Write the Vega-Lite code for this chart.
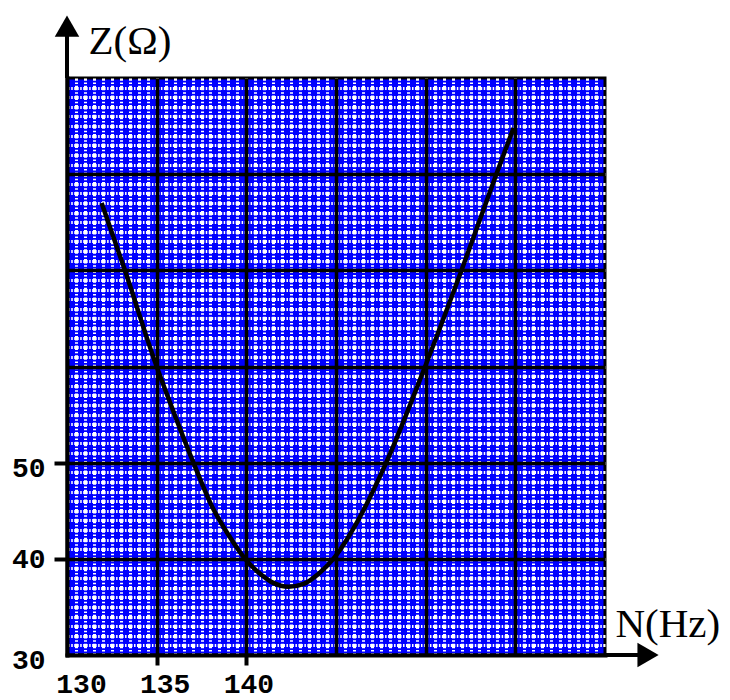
{
  "$schema": "https://vega.github.io/schema/vega-lite/v6.json",
  "width": 538,
  "height": 577,
  "autosize": {"type": "none"},
  "padding": {"left": 67, "top": 78, "right": 125, "bottom": 45},
  "background": "white",
  "config": {"view": {"fill": "#0000ff", "stroke": "black", "strokeWidth": 3}},
  "resolve": {"axis": {"x": "independent", "y": "independent"}},
  "layer": [
    {
      "data": {"values": [
        {"N": 131.93, "Z": 77.0},
        {"N": 133.23, "Z": 70.0},
        {"N": 134.96, "Z": 60.2},
        {"N": 136.0, "Z": 55.0},
        {"N": 137.05, "Z": 50.0},
        {"N": 138.1, "Z": 45.4},
        {"N": 139.0, "Z": 42.5},
        {"N": 139.93, "Z": 40.0},
        {"N": 140.8, "Z": 38.4},
        {"N": 141.5, "Z": 37.5},
        {"N": 142.35, "Z": 37.1},
        {"N": 143.2, "Z": 37.4},
        {"N": 144.0, "Z": 38.4},
        {"N": 144.85, "Z": 40.0},
        {"N": 146.2, "Z": 43.9},
        {"N": 147.8, "Z": 50.0},
        {"N": 149.97, "Z": 60.0},
        {"N": 152.0, "Z": 70.0},
        {"N": 153.96, "Z": 80.1},
        {"N": 154.9, "Z": 84.8}
      ]},
      "mark": {"type": "line", "color": "black", "strokeWidth": 4.5, "interpolate": "monotone"},
      "encoding": {
        "x": {"field": "N", "type": "quantitative",
          "scale": {"domain": [130, 160], "nice": false, "zero": false},
          "axis": {"orient": "bottom", "values": [130.5,131,131.5,132,132.5,133,133.5,134,134.5,135,135.5,136,136.5,137,137.5,138,138.5,139,139.5,140,140.5,141,141.5,142,142.5,143,143.5,144,144.5,145,145.5,146,146.5,147,147.5,148,148.5,149,149.5,150,150.5,151,151.5,152,152.5,153,153.5,154,154.5,155,155.5,156,156.5,157,157.5,158,158.5,159,159.5],
            "grid": true, "gridColor": "white", "gridWidth": 3, "gridOpacity": 1,
            "gridDash": [4.5, 1.8, 1.5, 1.817], "gridDashOffset": 2.25,
            "domain": false, "ticks": false, "labels": false, "title": null, "zindex": 0}},
        "y": {"field": "Z", "type": "quantitative",
          "scale": {"domain": [30, 90], "nice": false, "zero": false},
          "axis": {"orient": "left", "values": [31,32,33,34,35,36,37,38,39,40,41,42,43,44,45,46,47,48,49,50,51,52,53,54,55,56,57,58,59,60,61,62,63,64,65,66,67,68,69,70,71,72,73,74,75,76,77,78,79,80,81,82,83,84,85,86,87,88,89],
            "grid": true, "gridColor": "white", "gridWidth": 3, "gridOpacity": 1,
            "gridDash": [4.5, 1.5, 1.5, 1.467], "gridDashOffset": 2.25,
            "domain": false, "ticks": false, "labels": false, "title": null, "zindex": 0}}
      }
    },
    {
      "data": {"values": [{"N": 130, "Z": 90, "Z2": 95}]},
      "mark": {"type": "rule", "color": "black", "strokeWidth": 4},
      "encoding": {
        "x": {"field": "N", "type": "quantitative",
          "scale": {"domain": [130, 160], "nice": false, "zero": false},
          "axis": {"orient": "bottom", "values": [135, 140, 145, 150, 155],
            "grid": true, "gridColor": "black", "gridWidth": 3.5, "gridOpacity": 1,
            "domain": false, "ticks": false, "labels": false, "title": null, "zindex": 1}},
        "y": {"field": "Z", "type": "quantitative",
          "scale": {"domain": [30, 90], "nice": false, "zero": false},
          "axis": {"orient": "left", "values": [40, 50, 60, 70, 80],
            "grid": true, "gridColor": "black", "gridWidth": 3.5, "gridOpacity": 1,
            "domain": false, "ticks": false, "labels": false, "title": null, "zindex": 1}},
        "y2": {"field": "Z2"}
      }
    },
    {
      "data": {"values": [{"N": 160, "N2": 162, "Z": 30}]},
      "mark": {"type": "rule", "color": "black", "strokeWidth": 4},
      "encoding": {
        "x": {"field": "N", "type": "quantitative",
          "scale": {"domain": [130, 160], "nice": false, "zero": false},
          "axis": {"orient": "bottom", "values": [130, 135, 140], "grid": false,
            "domain": true, "domainColor": "black", "domainWidth": 4, "domainCap": "square",
            "ticks": true, "tickColor": "black", "tickWidth": 4, "tickSize": 10,
            "tickOpacity": {"expr": "datum.value == 130 ? 0 : 1"},
            "labelFont": "Liberation Mono", "labelFontWeight": "bold", "labelFontSize": 28,
            "labelColor": "black", "labelPadding": 5, "labelBaseline": "top", "labelFlush": false,
            "labelOffset": {"expr": "datum.value == 130 ? 14 : datum.value == 135 ? 8 : 2"},
            "title": "N(Hz)", "titleFont": "Liberation Serif", "titleFontWeight": "normal",
            "titleFontSize": 41, "titleColor": "black", "titleX": 548, "titleY": -19,
            "titleAlign": "left", "titleBaseline": "alphabetic", "titleAngle": 0, "zindex": 1}},
        "x2": {"field": "N2"},
        "y": {"field": "Z", "type": "quantitative",
          "scale": {"domain": [30, 90], "nice": false, "zero": false},
          "axis": {"orient": "left", "values": [30, 40, 50], "grid": false,
            "domain": true, "domainColor": "black", "domainWidth": 4, "domainCap": "square",
            "ticks": true, "tickColor": "black", "tickWidth": 4, "tickSize": 13,
            "tickOpacity": {"expr": "datum.value == 30 ? 0 : 1"},
            "labelFont": "Liberation Mono", "labelFontWeight": "bold", "labelFontSize": 28,
            "labelColor": "black", "labelPadding": 9, "labelFlush": false,
            "labelOffset": {"expr": "datum.value == 50 ? 6 : datum.value == 30 ? 5 : 1"},
            "title": "Z(Ω)", "titleFont": "Liberation Serif", "titleFontWeight": "normal",
            "titleFontSize": 41, "titleColor": "black", "titleX": 21, "titleY": -25,
            "titleAlign": "left", "titleBaseline": "alphabetic", "titleAngle": 0, "zindex": 1}}
      }
    },
    {
      "data": {"values": [
        {"N": 130, "Z": 95.4, "s": "triangle-up"},
        {"N": 162.4, "Z": 30, "s": "triangle-right"}
      ]},
      "mark": {"type": "point", "filled": true, "color": "black", "size": 600, "opacity": 1},
      "encoding": {
        "x": {"field": "N", "type": "quantitative",
          "scale": {"domain": [130, 160], "nice": false, "zero": false}, "axis": null},
        "y": {"field": "Z", "type": "quantitative",
          "scale": {"domain": [30, 90], "nice": false, "zero": false}, "axis": null},
        "shape": {"field": "s", "type": "nominal", "scale": null}
      }
    }
  ]
}
